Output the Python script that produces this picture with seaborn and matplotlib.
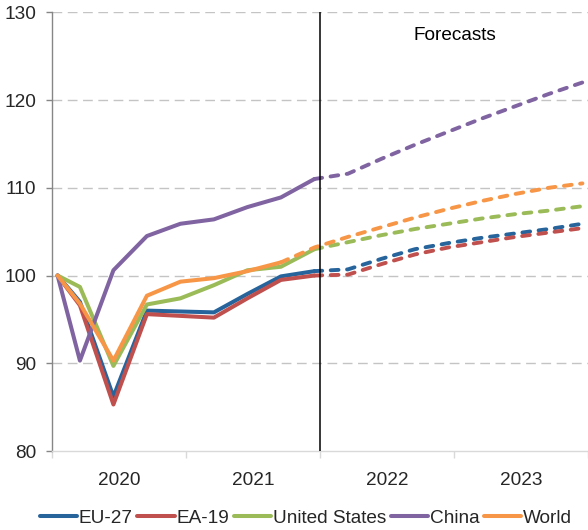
import numpy as np
import pandas as pd
import matplotlib
matplotlib.use("Agg")
import matplotlib.pyplot as plt
import seaborn as sns

# Quarterly GDP index, 2019Q4 = 100
quarters = ["2019Q4",
            "2020Q1", "2020Q2", "2020Q3", "2020Q4",
            "2021Q1", "2021Q2", "2021Q3", "2021Q4",
            "2022Q1", "2022Q2", "2022Q3", "2022Q4",
            "2023Q1", "2023Q2", "2023Q3", "2023Q4"]
series_names = ["EU-27", "EA-19", "United States", "China", "World"]
year_labels = ["2020", "2021", "2022", "2023"]

# Outturns (2019Q4 onwards)
eu27_actual = [100.0, 97.0, 86.2, 96.0, 95.9, 95.8, 97.9, 99.9, 100.5]
ea19_actual = [100.0, 96.6, 85.3, 95.6, 95.4, 95.2, 97.4, 99.5, 100.0]
us_actual = [100.0, 98.7, 89.7, 96.7, 97.4, 98.9, 100.6, 101.0, 103.0]
china_actual = [100.0, 90.3, 100.6, 104.5, 105.9, 106.4, 107.8, 108.9, 111.0]
world_actual = [100.0, 96.8, 90.3, 97.7, 99.3, 99.7, 100.5, 101.5]

# Forecasts (from the last outturn through 2023Q4)
eu27_fc = [100.5, 100.7, 101.9, 103.0, 103.7, 104.3, 104.8, 105.3, 105.9]
ea19_fc = [100.0, 100.1, 101.3, 102.4, 103.2, 103.8, 104.4, 104.9, 105.4]
us_fc = [103.0, 103.8, 104.6, 105.3, 105.9, 106.5, 107.0, 107.4, 107.9]
china_fc = [111.0, 111.6, 113.3, 114.9, 116.4, 117.9, 119.3, 120.7, 122.0]
world_fc = [101.5, 103.2, 104.4, 105.5, 106.6, 107.6, 108.5, 109.3, 110.0, 110.5]

colors = {"EU-27": "#27649C", "EA-19": "#C0504D", "United States": "#9BBB59",
          "China": "#8064A2", "World": "#F79646"}

# position of each quarter on a monthly date axis starting Jan 2020
month_pos = {q: (0.5 if i == 0 else 3 * i - 0.5) for i, q in enumerate(quarters)}

actual = {"EU-27": eu27_actual, "EA-19": ea19_actual, "United States": us_actual,
          "China": china_actual, "World": world_actual}
forecast = {"EU-27": eu27_fc, "EA-19": ea19_fc, "United States": us_fc,
            "China": china_fc, "World": world_fc}

rows = []
for name in series_names:
    vals = actual[name]
    for q, v in zip(quarters[:len(vals)], vals):
        rows.append({"quarter": q, "x": month_pos[q], "value": v, "series": name, "kind": "actual"})
    fvals = forecast[name]
    fq = quarters[len(quarters) - len(fvals):]
    for q, v in zip(fq, fvals):
        rows.append({"quarter": q, "x": month_pos[q], "value": v, "series": name, "kind": "forecast"})
df = pd.DataFrame(rows)

sns.set_theme(style="white")
plt.rcParams["font.family"] = ["Liberation Sans", "DejaVu Sans"]
FS = 13.7

fig = plt.figure(figsize=(5.88, 5.30), dpi=100)
ax = fig.add_axes([52 / 588, 79 / 530, 536 / 588, 438.7 / 530])

# horizontal dashed gridlines
for yv in [90, 100, 110, 120, 130]:
    ax.axhline(yv, color="#C4C4C4", lw=1.0, ls=(0, (7, 4)), zorder=0)

sns.lineplot(data=df[df.kind == "actual"], x="x", y="value", hue="series",
             hue_order=series_names, palette=colors, lw=2.9, ax=ax,
             sort=False, estimator=None, legend=True, zorder=3)
for name in series_names:
    sub = df[(df.kind == "forecast") & (df.series == name)]
    sns.lineplot(data=sub, x="x", y="value", color=colors[name], lw=2.8, ax=ax,
                 sort=False, estimator=None, legend=False, zorder=4,
                 dashes=False)
    ax.lines[-1].set_dashes((2.0, 2.2))
    ax.lines[-1].set_dash_capstyle("round")

# start of the forecast period
ax.axvline(24, color="black", lw=1.1, zorder=5)
ax.text((455 - 52) / 536, 0.948, "Forecasts", transform=ax.transAxes,
        ha="center", va="center", fontsize=FS, color="#000000")

ax.set_xlim(0, 48)
ax.set_ylim(80, 130)
ax.set_yticks([80, 90, 100, 110, 120, 130])
ax.set_yticklabels(["80", "90", "100", "110", "120", "130"], fontsize=FS)
ax.set_xticks([0, 12, 24, 36, 48])
ax.set_xticklabels([])
ax.set_xticks([6, 18, 30, 42], minor=True)
ax.set_xticklabels(year_labels, minor=True, fontsize=FS)
ax.tick_params(axis="x", which="minor", length=0, pad=15)
ax.tick_params(axis="x", which="major", length=5, width=1, color="#D9D9D9", direction="out", bottom=True)
ax.tick_params(axis="y", length=4, width=1, color="#868686", direction="out", left=True, pad=7.5)
ax.set_xlabel("")
ax.set_ylabel("")

for s in ["top", "right"]:
    ax.spines[s].set_visible(False)
ax.spines["left"].set_color("#868686")
ax.spines["left"].set_linewidth(1.0)
ax.spines["bottom"].set_color("#D9D9D9")
ax.spines["bottom"].set_linewidth(1.0)

handles, labels = ax.get_legend_handles_labels()
ax.legend_.remove()
fig.legend(handles[:5], labels[:5], loc="center", bbox_to_anchor=(306 / 588, 1 - 518 / 530),
           ncol=5, frameon=False, fontsize=FS, handlelength=1.95, handletextpad=0.1,
           columnspacing=0.25, borderpad=0)

fig.savefig("out.png", dpi=100)
